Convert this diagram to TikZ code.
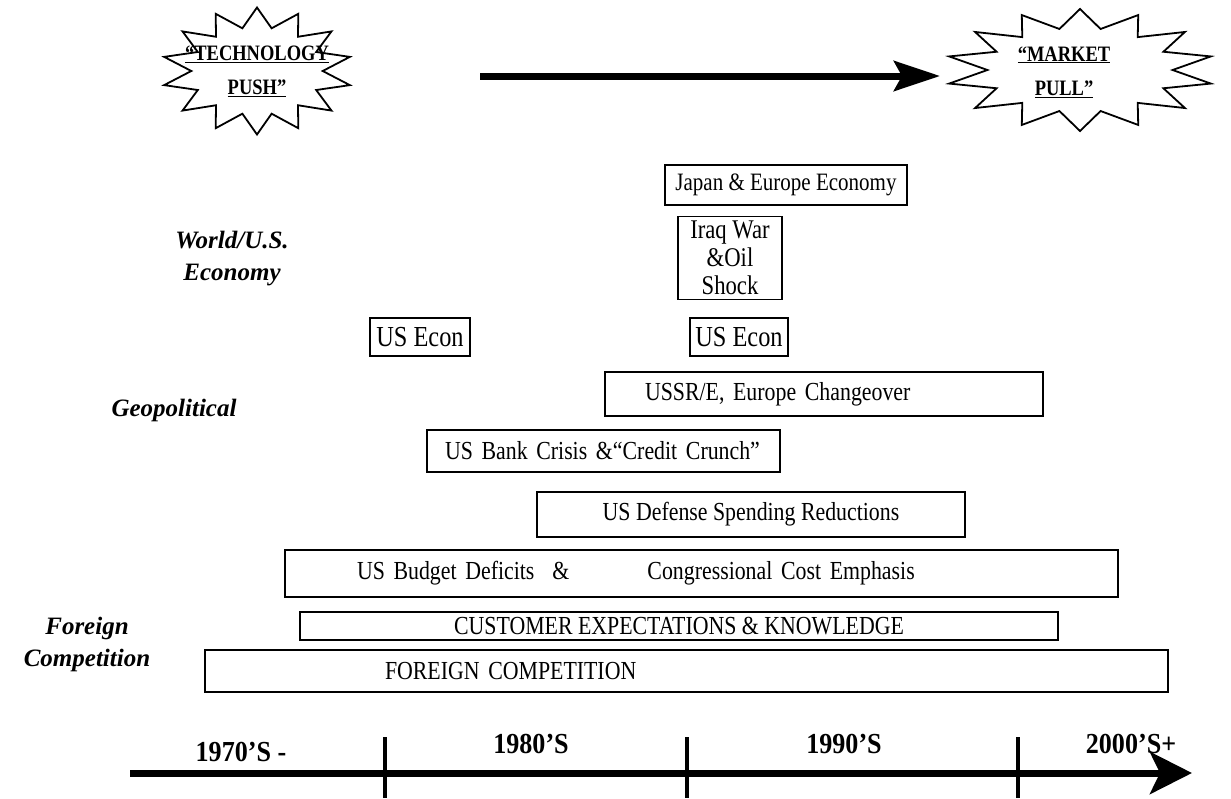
\documentclass[tikz,border=0pt]{standalone}
\usepackage{fontspec}
\setmainfont{Liberation Serif}
\newfontfamily\narrowfont[FakeStretch=0.84]{Liberation Serif}
\newfontfamily\erafont[FakeStretch=0.9]{Liberation Serif}
\usetikzlibrary{arrows.meta,shapes.geometric}

\tikzset{
  bar/.style={draw, line width=1.6pt, inner sep=0pt, font=\narrowfont\fontsize{26}{30}\selectfont},
  lbar/.style 2 args={text width=#1, inner xsep=#2, align=left},
  era/.style={font=\erafont\bfseries\fontsize{29}{30}\selectfont},
  side/.style={font=\bfseries\itshape\fontsize{25}{32}\selectfont, align=center},
  burst/.style={draw, line width=1.8pt, star, star points=14, star point ratio=1.45},
  burstlabel/.style={font=\narrowfont\bfseries\fontsize{22}{34}\selectfont, align=center},
  flow/.style={line width=7pt, -{Stealth[length=46pt,width=30pt,inset=8pt]}},
}

\begin{document}
\begin{tikzpicture}[x=1pt, y=-1pt]
\useasboundingbox (0,0) rectangle (1231,798);

% push / pull
\node[burst, minimum size=127pt, xscale=1.5] (pushstar) at (257,71) {};
\node[burstlabel] (push) at (pushstar.center) {\underline{“TECHNOLOGY}\\\underline{PUSH”}};
\node[burst, minimum size=122pt, xscale=2.2] (pullstar) at (1080,70) {};
\node[burstlabel] (pull) at (1064,72) {\underline{“MARKET}\\\underline{PULL”}};
\coordinate (pushend) at (480,76);
\coordinate (pullend) at (940,76);
\draw[flow] (pushend) -- (pullend);

% side labels
\node[side] (world) at (232,259) {World/U.S.\\Economy};
\node[side] (geo) at (174,410) {Geopolitical};
\node[side] (foreign) at (87,644) {Foreign\\Competition};

% factors
\node[bar, minimum width=242pt, minimum height=40pt, font=\narrowfont\fontsize{25}{30}\selectfont] (japan) at (786,185) {Japan \& Europe Economy};
\node[bar, minimum width=104pt, minimum height=83pt, align=center, font=\narrowfont\fontsize{27}{28}\selectfont] (iraq) at (730,258) {Iraq War\\\&Oil\\Shock};
\node[bar, minimum width=100pt, minimum height=38pt, font=\narrowfont\fontsize{29}{30}\selectfont] (econa) at (420,337) {US Econ};
\node[bar, minimum width=98pt, minimum height=38pt, font=\narrowfont\fontsize{29}{30}\selectfont] (econb) at (739,337) {US Econ};
\node[bar, lbar={358pt}{40pt}, minimum height=44pt] (ussr) at (824,394) {USSR/E, Europe Changeover};
\node[bar, lbar={317pt}{18pt}, minimum height=42pt] (bank) at (603.5,451) {US Bank Crisis \&“Credit Crunch”};
\node[bar, minimum width=428pt, minimum height=45pt] (defense) at (751,514.5) {US Defense Spending Reductions};
\node[bar, lbar={689pt}{72pt}, minimum height=47pt] (budget) at (701.5,573.5) {US Budget Deficits\hspace{18pt}\&\hspace{78pt}Congressional Cost Emphasis};
\node[bar, minimum width=758pt, minimum height=28pt] (customer) at (679,626) {CUSTOMER EXPECTATIONS \& KNOWLEDGE};
\node[bar, lbar={603pt}{180pt}, minimum height=42pt] (compete) at (686.5,671) {FOREIGN COMPETITION};

% time line
\coordinate (tstart) at (130,773);
\coordinate (tend) at (1192,773);
\draw[line width=7pt, -{Stealth[length=42pt,width=42pt,inset=10pt]}] (tstart) -- (tend);
\foreach \x in {385,687,1018}
  \draw[line width=4pt] (\x,737) -- (\x,798);
\node[era] (e70) at (241,752) {1970’S -};
\node[era] (e80) at (531,744) {1980’S};
\node[era] (e90) at (844,744) {1990’S};
\node[era] (e00) at (1131,744) {2000’S+};
\end{tikzpicture}
\end{document}
